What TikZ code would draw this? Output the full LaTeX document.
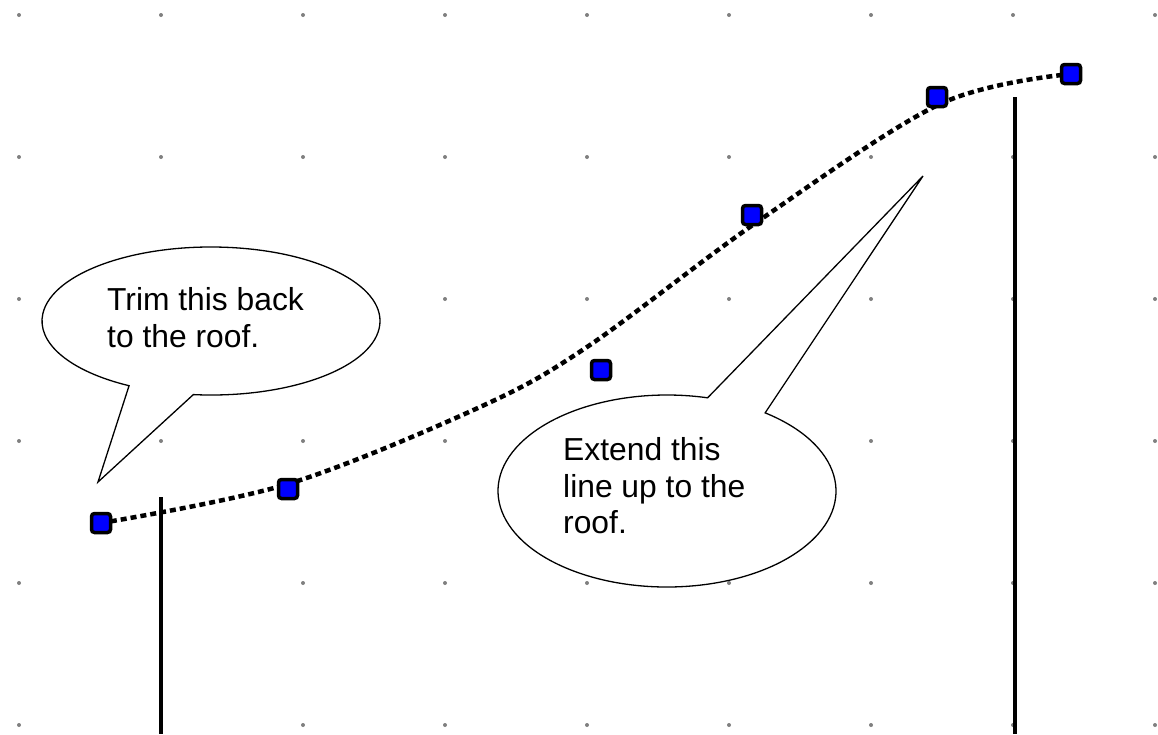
\documentclass[tikz,border=0pt]{standalone}
\usepackage{fontspec}
\setmainfont{Liberation Sans}
\usetikzlibrary{calc}
\begin{document}
\begin{tikzpicture}[x=1pt,y=-1pt,
  gdot/.style={fill=black!50},
  post/.style={line width=3.5pt},
  spline/.style={line width=4.5pt, dash pattern=on 6pt off 4pt},
  cpt/.style={rectangle, draw=black, line width=3.5pt, fill=blue, rounded corners=3pt, minimum size=19pt, inner sep=0pt},
  callout/.style={draw=black, line width=1.3pt, fill=white, line join=miter},
  ctext/.style={font=\fontsize{31.8}{36.6}\selectfont, align=left, anchor=north west, inner sep=0pt}]
\useasboundingbox[fill=white] (0,0) rectangle (1158,734);
% grid dots
\foreach \i in {0,...,8}
  \foreach \j in {0,...,5}
    \fill[gdot] (19+142*\i,15+142*\j) circle[radius=2];
% posts
\coordinate (ltop) at (161,497);
\coordinate (lbot) at (161,734);
\coordinate (rtop) at (1015,97);
\coordinate (rbot) at (1015,734);
\draw[post] (ltop) -- (lbot);
\draw[post] (rtop) -- (rbot);
% spline
\draw[spline] plot[smooth, tension=0.55] coordinates {(101,523) (288,484) (480,407) (587,347) (757,222) (940,104) (1071,74)};
% control points
\node[cpt] (p1) at (101,523) {};
\node[cpt] (p2) at (288,489) {};
\node[cpt] (p3) at (601,370) {};
\node[cpt] (p4) at (752,215) {};
\node[cpt] (p5) at (937,97) {};
\node[cpt] (p6) at (1071,74) {};
% callout 1
\coordinate (c1) at (211,321);
\coordinate (t1) at (98,482);
\draw[callout] (t1) -- ($(c1)+(96:169 and 74)$) arc[start angle=96, end angle=-241, x radius=169, y radius=74] -- cycle;
\node[ctext] (txt1) at (107,287.5) {Trim this back\\to the roof.};
% callout 2
\coordinate (c2) at (667,491);
\coordinate (t2) at (923,176);
\draw[callout] (t2) -- ($(c2)+(-54.5:169 and 96)$) arc[start angle=-54.5, end angle=283.9, x radius=169, y radius=96] -- cycle;
\node[ctext] (txt2) at (563,437.5) {Extend this\\line up to the\\roof.};
\end{tikzpicture}
\end{document}
